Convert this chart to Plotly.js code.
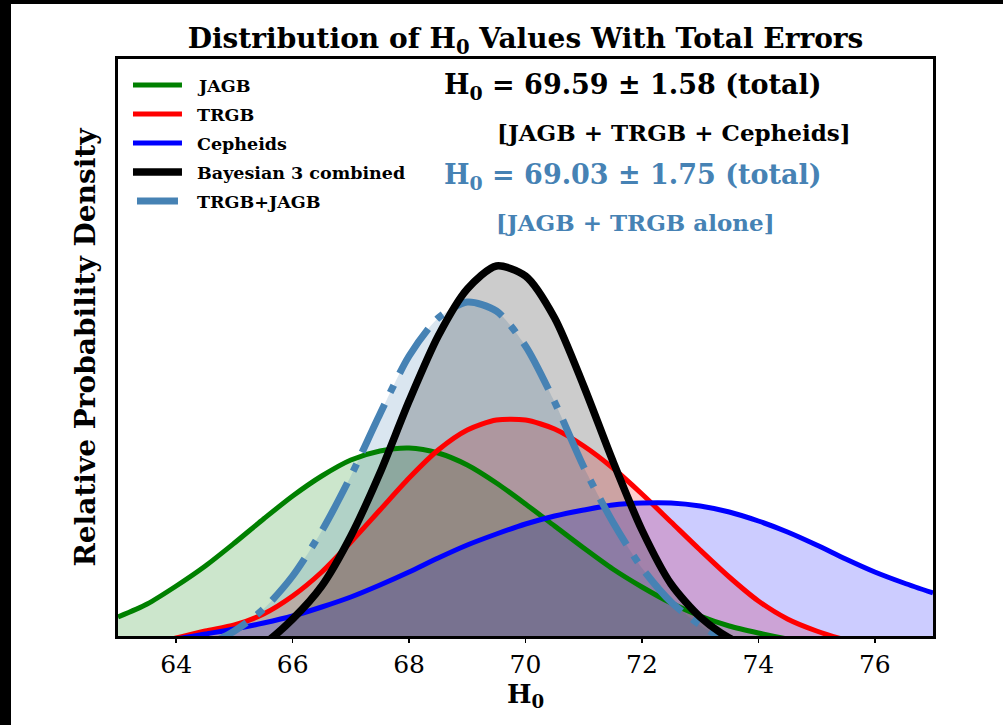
<!DOCTYPE html>
<html>
<head>
<meta charset="utf-8">
<script src="https://cdn.plot.ly/plotly-3.0.1.min.js"></script>
<style>
  html, body { margin: 0; padding: 0; background: #000; width: 1003px; height: 725px; overflow: hidden; }
  #chart { position: absolute; left: 11px; top: 4px; width: 992px; height: 721px; background: #fff; }
</style>
</head>
<body>
<div id="chart"></div>
<script>
// H0 grid (km/s/Mpc)
const h0 = [63, 63.5, 64, 64.5, 65, 65.5, 66, 66.5, 67, 67.5, 68, 68.5, 69, 69.5, 70,
            70.5, 71, 71.5, 72, 72.5, 73, 73.5, 74, 74.5, 75, 75.5, 76, 76.5, 77];

// Relative probability density (arbitrary units; axis floor = 0)
const jagb = [19, 32, 50, 70, 93, 117, 140, 160, 176, 185, 188, 183, 171, 153, 132,
              110, 88, 67, 49, 33, 20, 10, 3, -3, -8, -12, -15, -17, -19];
const trgb = [-14, -8, -2, 5, 11, 22, 40, 64, 94, 126, 158, 186, 206, 216, 216,
              207, 190, 168, 142, 114, 86, 59, 35, 17, 5, -4, -11, -16, -20];
const cepheids = [-15, -9, -3, 2, 7, 13, 20, 29, 39, 51, 64, 78, 91, 102, 112,
                  120, 126, 131, 133, 133, 130, 124, 115, 104, 91, 77, 64, 53, 43];
const combined3 = [-45, -40, -35, -30, -22, -8, 17, 50, 100, 163, 235, 300, 347, 370, 360,
                   318, 250, 175, 106, 52, 19, -2, -15, -24, -30, -35, -38, -40, -42];
const trgbJagb = [-40, -32, -22, -10, 5, 27, 60, 105, 160, 222, 280, 318, 334, 325, 290,
                  234, 169, 114, 68, 34, 11, -6, -17, -25, -31, -35, -38, -40, -42];

const seriesNames = ['JAGB', 'TRGB', 'Cepheids', 'Bayesian 3 combined', 'TRGB+JAGB'];
const tickVals = [64, 66, 68, 70, 72, 74, 76];
const tickText = ['64', '66', '68', '70', '72', '74', '76'];

const titleText = 'Distribution of H<sub>0</sub> Values With Total Errors';
const xTitle = 'H<sub>0</sub>';
const yTitle = 'Relative Probability Density';
const resultLines = [
  'H<sub>0</sub> = 69.59 ± 1.58 (total)',
  '[JAGB + TRGB + Cepheids]',
  'H<sub>0</sub> = 69.03 ± 1.75 (total)',
  '[JAGB + TRGB alone]'
];

const SERIF_B = '"DejaVu Serif", serif';
const SMOOTH = 0.75;

const seriesData = [jagb, trgb, cepheids, trgbJagb, combined3];
const seriesLabels = ['JAGB', 'TRGB', 'Cepheids', 'TRGB+JAGB', 'Bayesian 3 combined'];
const lineColors = ['#008000', '#ff0000', '#0000ff', '#4682b4', '#000000'];
const fillColors = ['rgba(0,128,0,0.2)', 'rgba(255,0,0,0.2)', 'rgba(0,0,255,0.2)',
                    'rgba(70,130,180,0.2)', 'rgba(0,0,0,0.2)'];
const lineWidths = [5, 5, 5, 7, 7.5];
const lineDashes = ['solid', 'solid', 'solid', '53px,13px,8px,13px', 'solid'];

const traces = [];
// fills first
for (let i = 0; i < seriesData.length; i++) {
  traces.push({
    x: h0, y: seriesData[i], type: 'scatter', mode: 'lines', name: seriesLabels[i] + ' fill',
    line: { color: 'rgba(0,0,0,0)', width: 0, shape: 'spline', smoothing: SMOOTH },
    fill: 'tozeroy', fillcolor: fillColors[i], showlegend: false, hoverinfo: 'skip'
  });
}
// then lines on top
for (let i = 0; i < seriesData.length; i++) {
  traces.push({
    x: h0, y: seriesData[i], type: 'scatter', mode: 'lines', name: seriesLabels[i],
    line: { color: lineColors[i], width: lineWidths[i], shape: 'spline', smoothing: SMOOTH, dash: lineDashes[i] },
    showlegend: false, hoverinfo: 'skip'
  });
}

// manual legend (paper coords)
const legColors = ['#008000', '#ff0000', '#0000ff', '#000000', '#4682b4'];
const legWidths = [5, 5, 5, 7.5, 7];
const legY = [0.955, 0.9047, 0.8544, 0.8042, 0.7539];
const shapes = [];
const annotations = [];
for (let i = 0; i < seriesNames.length; i++) {
  const short = i === 4;
  shapes.push({
    type: 'line', xref: 'paper', yref: 'paper',
    x0: short ? 0.0233 : 0.0184, x1: short ? 0.0736 : 0.0785,
    y0: legY[i], y1: legY[i],
    line: { color: legColors[i], width: legWidths[i] }
  });
  annotations.push({
    xref: 'paper', yref: 'paper', x: 0.0945, y: legY[i] - 0.001,
    xanchor: 'left', yanchor: 'middle', showarrow: false,
    text: '<b>' + seriesNames[i] + '</b>',
    font: { family: SERIF_B, size: 17.5, color: '#000' }
  });
}
const resPos = [[0.6319, 0.9515, 27, '#000'], [0.6822, 0.8718, 23, '#000'],
                [0.6319, 0.7955, 27, '#4682b4'], [0.6344, 0.7158, 23, '#4682b4']];
for (let i = 0; i < resultLines.length; i++) {
  annotations.push({
    xref: 'paper', yref: 'paper', x: resPos[i][0], y: resPos[i][1],
    xanchor: 'center', yanchor: 'middle', showarrow: false,
    text: '<b>' + resultLines[i] + '</b>',
    font: { family: SERIF_B, size: resPos[i][2], color: resPos[i][3] }
  });
}

const layout = {
  width: 992, height: 721,
  margin: { l: 107, r: 70, t: 55, b: 89, pad: 0 },
  paper_bgcolor: '#fff', plot_bgcolor: '#fff',
  title: {
    text: '<b>' + titleText + '</b>',
    x: 0.5, xref: 'paper', xanchor: 'center',
    y: 1 - 34 / 721, yref: 'container', yanchor: 'middle',
    font: { family: SERIF_B, size: 28, color: '#000' }
  },
  xaxis: {
    range: [63, 77], showgrid: false, zeroline: false,
    showline: true, mirror: true, linecolor: '#000', linewidth: 3,
    ticks: 'outside', ticklen: 4, tickwidth: 1.5, tickcolor: '#000',
    tickvals: tickVals, ticktext: tickText, ticklabelstandoff: 0,
    tickfont: { family: '"DejaVu Serif", serif', size: 25, color: '#000' },
    title: { text: '<b>' + xTitle + '</b>', standoff: 2,
             font: { family: SERIF_B, size: 26, color: '#000' } },
    automargin: false
  },
  yaxis: {
    range: [0, 577], showgrid: false, zeroline: false,
    showline: true, mirror: true, linecolor: '#000', linewidth: 3,
    ticks: '', showticklabels: false,
    title: { text: '<b>' + yTitle + '</b>', standoff: 12,
             font: { family: SERIF_B, size: 28, color: '#000' } },
    automargin: false
  },
  shapes: shapes,
  annotations: annotations,
  showlegend: false
};

Plotly.newPlot('chart', traces, layout, { displayModeBar: false, staticPlot: true });
</script>
</body>
</html>
